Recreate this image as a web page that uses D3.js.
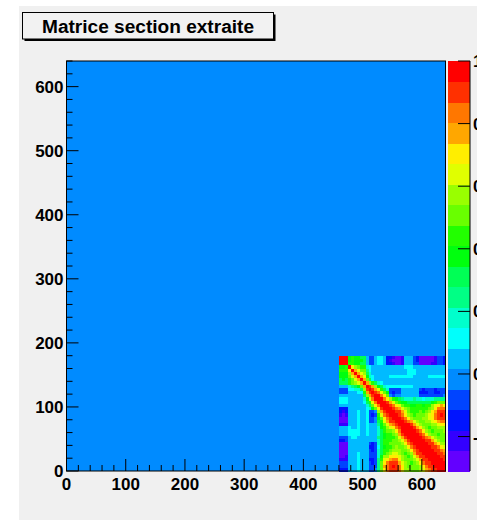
<!DOCTYPE html>
<html>
<head>
<meta charset="utf-8">
<script src="https://d3js.org/d3.v7.min.js"></script>
<style>
body { margin: 0; background: #fff; }
text { font-family: "Liberation Sans", Arial, sans-serif; font-weight: bold; }
</style>
</head>
<body>
<div id="chart"></div>
<script>

// histogram range and the extracted block
var axisRange = [0, 640];
var blockX = [460, 640];
var blockY = [0, 180];
var zRange = [-0.31, 1];
var axisTicks = [0, 100, 200, 300, 400, 500, 600];
var zTicks = [1, 0.8, 0.6, 0.4, 0.2, 0, -0.2];
var zTickLabels = ["1", "0.8", "0.6", "0.4", "0.2", "0", "-0.2"];
var title = "Matrice section extraite";

// upper triangle of the correlation block, row i holds columns i..35 (row 0 at top)
var upper = [
  [1,.97,.97,.40,.42,.40,.36,.34,.30,.05,-.09,-.10,.04,.12,.13,.05,-.12,-.16,-.24,-.27,-.26,-.20,.03,.06,.04,-.08,-.12,-.25,-.28,-.27,-.28,-.25,-.22,-.10,-.08,-.13],
  [1,.98,.41,.43,.41,.37,.35,.31,.04,-.10,-.11,.05,.13,.12,.04,-.13,-.18,-.25,-.28,-.27,-.21,.02,.05,.05,-.09,-.13,-.26,-.29,-.28,-.27,-.26,-.21,-.11,-.09,-.12],
  [1,.42,.44,.40,.36,.33,.30,.05,-.08,-.10,.04,.12,.13,.05,-.12,-.17,-.24,-.27,-.26,-.22,.03,.06,.04,-.08,-.11,-.25,-.28,-.28,-.27,-.24,-.21,-.10,-.08,-.12],
  [1,.72,.60,.52,.47,.43,.20,.10,.06,.05,.06,.05,.04,.05,.06,.05,.04,.05,.06,.10,.11,.10,.06,.05,.04,.05,.06,.05,.06,.05,.04,.06,.05],
  [1,.74,.61,.53,.48,.25,.12,.07,.05,.06,.05,.04,.06,.05,.06,.05,.04,.06,.05,.11,.12,.10,.05,.06,.05,.04,.05,.06,.05,.04,.05,.06],
  [1,.75,.62,.55,.30,.15,.08,.06,.05,.06,.05,.06,.07,.08,.07,.06,.08,.07,.10,.11,.09,.06,.05,.06,.05,.07,.08,.07,.06,.08,.07],
  [1,.76,.63,.38,.20,.10,.06,.05,.06,.04,.05,.14,.13,.12,.14,.13,.12,.09,.10,.08,.05,.06,.05,.06,.14,.13,.12,.14,.13,.12],
  [1,.78,.50,.28,.14,.08,.06,.05,.04,.05,.06,.05,.06,.05,.06,.07,.08,.07,.06,.05,.04,.05,.06,.05,.04,.05,.06,.05,.04],
  [1,.80,.60,.42,.28,.18,.12,.08,.06,.07,.06,.08,.07,.06,.05,.06,.07,.06,.05,.04,.05,.06,.05,.04,.05,.06,.05,.04],
  [1,.90,.75,.55,.40,.28,.20,.14,.12,.13,.12,.11,.13,.12,.11,.10,.06,.05,.04,.03,.05,.04,.03,.05,.04,.03,.05],
  [1,.92,.80,.62,.45,.32,.20,-.08,-.10,-.09,-.07,.04,.05,.06,.05,.04,.03,-.10,-.12,-.11,-.09,-.10,-.12,-.11,-.08,-.06],
  [1,.93,.82,.65,.50,.36,-.10,-.12,-.10,-.08,.03,.05,.04,.05,.03,.02,-.12,-.13,-.12,-.10,-.11,-.13,-.12,-.09,-.07],
  [1,.94,.84,.68,.52,-.02,-.05,-.03,.00,.05,.06,.05,.04,.03,.04,-.06,-.08,-.07,-.05,-.06,-.08,-.07,-.05,-.03],
  [1,.95,.86,.72,.58,.45,.35,.28,.22,.20,.18,.20,.22,.18,.15,.14,.16,.18,.20,.22,.25,.24,.22],
  [1,.95,.88,.76,.64,.54,.45,.40,.35,.33,.32,.34,.33,.30,.28,.30,.33,.38,.45,.50,.52,.48],
  [1,.96,.90,.82,.72,.62,.52,.46,.42,.40,.41,.43,.42,.40,.42,.46,.55,.65,.72,.74,.70],
  [1,.96,.92,.86,.76,.64,.55,.48,.45,.44,.45,.47,.46,.45,.50,.60,.72,.82,.86,.84],
  [1,.97,.93,.87,.76,.63,.52,.45,.44,.46,.48,.47,.50,.56,.68,.80,.90,.93,.90],
  [1,.97,.93,.86,.72,.60,.50,.46,.48,.50,.52,.55,.62,.72,.84,.92,.94,.92],
  [1,.97,.93,.85,.72,.60,.52,.50,.52,.55,.58,.63,.72,.82,.90,.93,.90],
  [1,.97,.93,.86,.74,.62,.55,.52,.53,.56,.60,.66,.72,.80,.85,.84],
  [1,.97,.94,.88,.78,.66,.56,.50,.48,.50,.55,.60,.65,.70,.70],
  [1,.97,.94,.89,.80,.68,.56,.48,.46,.48,.52,.56,.60,.60],
  [1,.97,.94,.90,.82,.70,.58,.50,.47,.48,.50,.54,.55],
  [1,.97,.95,.91,.84,.72,.60,.52,.48,.47,.50,.52],
  [1,.97,.95,.92,.86,.76,.64,.55,.50,.48,.50],
  [1,.97,.95,.92,.87,.78,.66,.58,.52,.50],
  [1,.97,.95,.92,.88,.80,.70,.60,.55],
  [1,.97,.95,.93,.89,.82,.72,.64],
  [1,.97,.95,.93,.90,.84,.76],
  [1,.97,.95,.93,.90,.85],
  [1,.97,.95,.93,.90],
  [1,.97,.95,.92],
  [1,.97,.94],
  [1,.97],
  [1]
];

var W = 477, H = 520;
var frame = {left: 66.5, right: 445.5, top: 61, bottom: 471};
var pal = {left: 448, right: 470};

var svg = d3.select("#chart")
  .append("svg")
    .attr("width", W)
    .attr("height", H);

// canvas background
svg.append("rect").attr("width", W).attr("height", H).attr("fill", "#fff");
svg.append("rect").attr("x", 19).attr("y", 6).attr("width", W - 19).attr("height", H - 6).attr("fill", "#f0f0f0");

var x = d3.scaleLinear().domain(axisRange).range([frame.left, frame.right]);
var y = d3.scaleLinear().domain(axisRange).range([frame.bottom, frame.top]);
var z = d3.scaleLinear().domain(zRange).range([frame.bottom, frame.top]);

// ROOT "pretty" palette, 20 contour levels
var nLevels = 20;
var levelColors = d3.range(nLevels).map(function(k) {
  var idx = Math.floor((k + 0.99) * 50 / nLevels);
  var hue = 280 - (idx + 1) * 5.6;
  return d3.hsl(hue, 1, 0.5).formatHex();
});
var color = d3.scaleQuantize().domain(zRange).range(levelColors);

// empty bins still get painted (min < 0)
svg.append("rect")
  .attr("x", frame.left).attr("y", frame.top)
  .attr("width", frame.right - frame.left)
  .attr("height", frame.bottom - frame.top)
  .attr("fill", color(0));

var n = upper.length;
var cells = [];
for (var i = 0; i < n; i++) {
  for (var j = 0; j < n; j++) {
    var v = i <= j ? upper[i][j - i] : upper[j][i - j];
    cells.push({row: i, col: j, v: v});
  }
}
var bx = d3.scaleLinear().domain([0, n]).range(blockX);
var by = d3.scaleLinear().domain([0, n]).range([blockY[1], blockY[0]]);

svg.append("g")
  .attr("shape-rendering", "crispEdges")
  .selectAll("rect")
  .data(cells)
  .enter()
  .append("rect")
    .attr("x", function(d) { return x(bx(d.col)); })
    .attr("y", function(d) { return y(by(d.row)); })
    .attr("width", function(d) { return x(bx(d.col + 1)) - x(bx(d.col)) + 0.5; })
    .attr("height", function(d) { return y(by(d.row + 1)) - y(by(d.row)) + 0.5; })
    .attr("fill", function(d) { return color(d.v); });

// palette
svg.append("g")
  .attr("shape-rendering", "crispEdges")
  .selectAll("rect")
  .data(levelColors)
  .enter()
  .append("rect")
    .attr("x", pal.left)
    .attr("width", pal.right - pal.left)
    .attr("y", function(d, k) { return z(zRange[0] + (k + 1) * (zRange[1] - zRange[0]) / nLevels); })
    .attr("height", (frame.bottom - frame.top) / nLevels + 0.5)
    .attr("fill", function(d) { return d; });

// frame
svg.append("rect")
  .attr("x", frame.left).attr("y", frame.top)
  .attr("width", frame.right - frame.left)
  .attr("height", frame.bottom - frame.top)
  .attr("fill", "none").attr("stroke", "#000").attr("stroke-width", 1);

var minor = d3.range(0, 641, 20);
var ticks = svg.append("g").attr("stroke", "#000").attr("stroke-width", 1);
ticks.selectAll("line.xt")
  .data(minor).enter().append("line")
    .attr("x1", function(d) { return x(d); }).attr("x2", function(d) { return x(d); })
    .attr("y1", frame.bottom)
    .attr("y2", function(d) { return frame.bottom - (d % 100 === 0 ? 12 : 6); });
ticks.selectAll("line.yt")
  .data(minor).enter().append("line")
    .attr("y1", function(d) { return y(d); }).attr("y2", function(d) { return y(d); })
    .attr("x1", frame.left)
    .attr("x2", function(d) { return frame.left + (d % 100 === 0 ? 12 : 6); });
ticks.append("line")
  .attr("x1", pal.right).attr("x2", pal.right)
  .attr("y1", frame.top).attr("y2", frame.bottom);
ticks.selectAll("line.zt")
  .data(zTicks).enter().append("line")
    .attr("x1", pal.right).attr("x2", pal.right - 12)
    .attr("y1", function(d) { return z(d); }).attr("y2", function(d) { return z(d); });

// labels
svg.selectAll("text.xl")
  .data(axisTicks).enter().append("text")
    .attr("x", function(d) { return x(d); })
    .attr("y", frame.bottom + 19)
    .attr("text-anchor", "middle")
    .attr("font-size", "17px")
    .text(function(d) { return d; });
svg.selectAll("text.yl")
  .data(axisTicks).enter().append("text")
    .attr("x", frame.left - 3)
    .attr("y", function(d) { return y(d) + 6; })
    .attr("text-anchor", "end")
    .attr("font-size", "17px")
    .text(function(d) { return d; });
svg.selectAll("text.zl")
  .data(zTicks).enter().append("text")
    .attr("x", pal.right + 3)
    .attr("y", function(d) { return z(d) + 6; })
    .attr("font-size", "17px")
    .text(function(d, k) { return zTickLabels[k]; });

// title box with shadow
svg.append("rect").attr("x", 24.5).attr("y", 14.5).attr("width", 251).attr("height", 26.5).attr("fill", "#000");
svg.append("rect").attr("x", 22.5).attr("y", 12.5).attr("width", 251).attr("height", 26.5)
  .attr("fill", "#f2f2f2").attr("stroke", "#000").attr("stroke-width", 1);
svg.append("text")
  .attr("x", 148).attr("y", 33)
  .attr("text-anchor", "middle")
  .attr("font-size", "18px")
  .attr("textLength", 212)
  .attr("lengthAdjust", "spacingAndGlyphs")
  .text(title);

</script>
</body>
</html>
